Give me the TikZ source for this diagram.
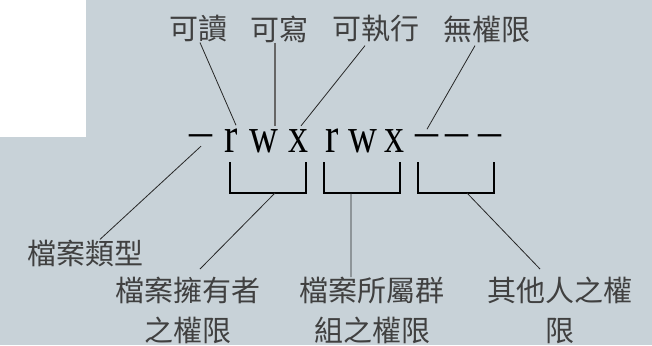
\documentclass[tikz,border=0pt]{standalone}
\usepackage{fontspec}
\setmainfont{Liberation Serif}
\newfontfamily\cjk{Noto Sans CJK TC}
\definecolor{bgblue}{HTML}{C8D2D8}
\definecolor{inkgray}{HTML}{404040}

\begin{document}
\begin{tikzpicture}[x=1pt, y=-1pt,
    label/.style={font=\cjk\fontsize{29}{40}\selectfont, text=inkgray,
      inner sep=0pt, align=center},
    perm/.style={font=\fontsize{50}{50}\selectfont, inner sep=0pt, anchor=base},
    nobit/.style={font=\fontsize{46}{46}\selectfont, inner sep=0pt, anchor=base},
    leader/.style={draw=black!85, line width=0.8pt},
    bracket/.style={draw=black, line width=2.6pt}]
      \fill[bgblue] (0,0) rectangle (652,345);
      \fill[white] (0,0) rectangle (86,137);

      \path (198,29) node[label] (read) {可讀};
      \path (279,29) node[label] (write) {可寫};
      \path (376,29) node[label] (exec) {可執行};
      \path (487,29) node[label] (none) {無權限};

      \foreach \ch/\x/\n in {r/231/r1, w/264/w1, x/298/x1, r/332/r2, w/363/w2, x/394/x2}
      {
        \path (\x,152) node[perm] (\n) {\scalebox{0.8}[1]{\ch}};
      }

      \foreach \x/\n in {201/d0, 427/d1, 457/d2, 490/d3}
      {
        \path (\x,146) node[nobit] (\n) {–};
      }

      \draw[bracket]
        (230,162) |- (306,193) -- (306,162)
        (324,162) |- (400,193) -- (400,162)
        (418,162) |- (494,193) -- (494,162);

      \coordinate (b1) at (275,193);
      \coordinate (b2) at (351,193);
      \coordinate (b3) at (467,193);

      \path (85,253) node[label] (type) {檔案類型};
      \path (188,277) node[label, anchor=north] (owner) {檔案擁有者\\之權限};
      \path (372,277) node[label, anchor=north] (group) {檔案所屬群\\組之權限};
      \path (560,277) node[label, anchor=north] (others) {其他人之權\\限};

      \draw[leader]
        ([xshift=2pt]read.south) -- ([xshift=5pt, yshift=3pt]r1.north)
        ([xshift=-11pt, yshift=-3pt]exec.south) -- ([xshift=3pt, yshift=3pt]x1.north)
        ([xshift=-12pt, yshift=-3pt]none.south) -- ([yshift=17pt]d1.south)
        (d0.south) -- ([xshift=15pt]type.north)
        (b1) -- ([xshift=12pt, yshift=8pt]owner.north)
        (b2) -- ([xshift=-21pt]group.north)
        (b3) -- ([xshift=-20pt, yshift=8pt]others.north);

      \draw[leader, draw=black!60, line width=1.3pt]
        ([xshift=-4pt]write.south) -- ([xshift=11pt, yshift=3pt]w1.north);
    \end{tikzpicture}
\end{document}
